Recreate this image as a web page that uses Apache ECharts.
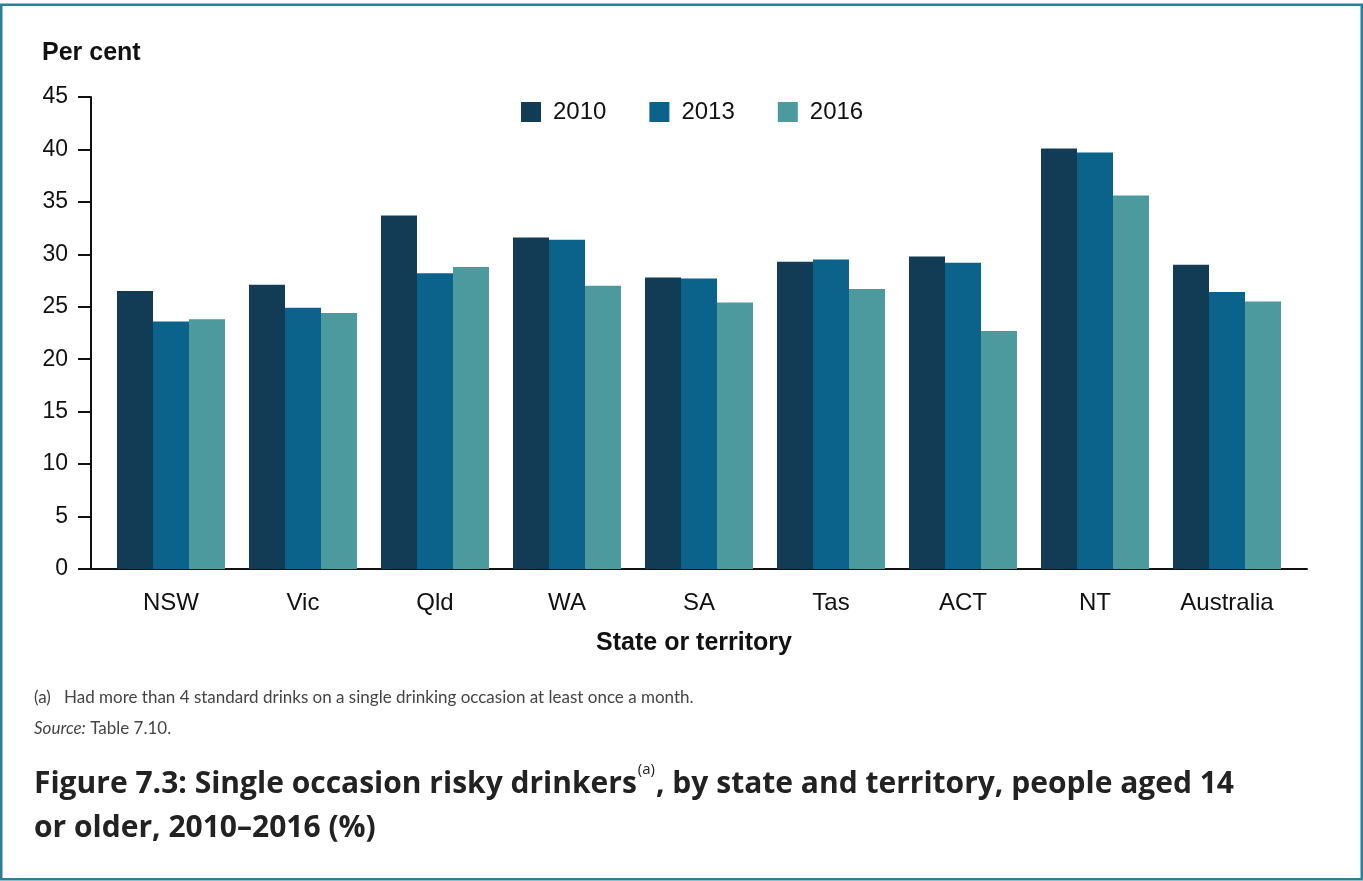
<!DOCTYPE html>
<html>
<head>
<meta charset="utf-8">
<script src="https://cdn.jsdelivr.net/npm/echarts@6/dist/echarts.min.js"></script>
<style>
  html, body { margin: 0; padding: 0; background: #fff; }
  #chart { width: 1363px; height: 881px; }
</style>
</head>
<body>
<div id="chart"></div>
<script>
const categories = ['NSW', 'Vic', 'Qld', 'WA', 'SA', 'Tas', 'ACT', 'NT', 'Australia'];
const seriesNames = ['2010', '2013', '2016'];
const values2010 = [26.5, 27.1, 33.7, 31.6, 27.8, 29.3, 29.8, 40.1, 29.0];
const values2013 = [23.6, 24.9, 28.2, 31.4, 27.7, 29.5, 29.2, 39.7, 26.4];
const values2016 = [23.8, 24.4, 28.8, 27.0, 25.4, 26.7, 22.7, 35.6, 25.5];
const colors = ['#123c56', '#0b628a', '#4c999e'];

const axisFont = 'Liberation Sans, Arial, sans-serif';
const titleFont = 'Open Sans, sans-serif';
const noteFont = 'Lato, Open Sans, sans-serif';

const chart = echarts.init(document.getElementById('chart'), null, { renderer: 'canvas' });

const mkSeries = (name, data, i) => ({
  name: name,
  type: 'bar',
  data: data,
  xAxisIndex: 0,
  yAxisIndex: 0,
  barGap: '0%',
  barCategoryGap: '18.18%',
  itemStyle: { color: colors[i] },
  emphasis: { disabled: true }
});

chart.setOption({
  animation: false,
  color: colors,
  grid: [
    { left: 105, right: 70, top: 97, bottom: 312 },
    { left: 91, right: 56, top: 97, bottom: 312 }
  ],
  legend: {
    data: seriesNames,
    left: 521,
    top: 100,
    padding: 0,
    icon: 'rect',
    itemWidth: 20,
    itemHeight: 20,
    itemGap: 43,
    selectedMode: false,
    textStyle: {
      fontFamily: axisFont,
      fontSize: 24,
      color: '#111',
      padding: [0, 0, 0, 7]
    }
  },
  title: [
    {
      left: 34,
      top: 762,
      padding: 0,
      text: '{b|Figure 7.3: Single occasion risky drinkers}{s|(a)}{b|, by state and territory, people aged 14}\n{b|or older, 2010–2016 (%)}',
      textStyle: {
        rich: {
          b: { fontFamily: titleFont, fontWeight: 'bold', fontSize: 30, color: '#222', lineHeight: 44 },
          s: { fontFamily: titleFont, fontWeight: 'normal', fontSize: 15, color: '#222', verticalAlign: 'top', lineHeight: 44, padding: [0, 1, 10, 1] }
        }
      }
    },
    {
      left: 34,
      top: 682,
      padding: 0,
      text: '{n|(a)   Had more than 4 standard drinks on a single drinking occasion at least once a month.}\n{i|Source:}{n| Table 7.10.}',
      textStyle: {
        fontWeight: 'normal',
        rich: {
          n: { fontFamily: noteFont, fontWeight: 'normal', fontSize: 17, color: '#444', lineHeight: 31 },
          i: { fontFamily: noteFont, fontWeight: 'normal', fontSize: 17, fontStyle: 'italic', color: '#444', lineHeight: 31 }
        }
      }
    }
  ],
  xAxis: [
    {
      type: 'category',
      gridIndex: 0,
      data: categories,
      axisLine: { show: false },
      axisTick: { show: false },
      axisLabel: { fontFamily: axisFont, fontSize: 24, color: '#111', margin: 22 },
      name: 'State or territory',
      nameLocation: 'middle',
      nameGap: 62,
      nameTextStyle: { fontFamily: axisFont, fontSize: 25, fontWeight: 'bold', color: '#111', verticalAlign: 'top', padding: [0, 10, 0, 0] }
    },
    {
      type: 'value',
      gridIndex: 1,
      axisLine: { show: true, lineStyle: { color: '#111', width: 2 } },
      axisTick: { show: false },
      axisLabel: { show: false },
      splitLine: { show: false }
    }
  ],
  yAxis: [
    {
      type: 'value',
      gridIndex: 0,
      min: 0,
      max: 45,
      interval: 5,
      offset: 14,
      axisLine: { show: true, lineStyle: { color: '#111', width: 2 } },
      axisTick: { show: true, length: 13, lineStyle: { color: '#111', width: 2 } },
      axisLabel: { fontFamily: axisFont, fontSize: 23, color: '#111', margin: 23 },
      splitLine: { show: false }
    },
    {
      type: 'value',
      gridIndex: 1,
      show: false
    }
  ],
  series: [
    mkSeries(seriesNames[0], values2010, 0),
    mkSeries(seriesNames[1], values2013, 1),
    mkSeries(seriesNames[2], values2016, 2)
  ],
  graphic: [
    {
      type: 'rect',
      shape: { x: 1.25, y: 4.75, width: 1360.5, height: 874.5 },
      style: { fill: 'none', stroke: '#2b7f98', lineWidth: 2.5 },
      silent: true
    },
    {
      type: 'text',
      left: 42,
      top: 41,
      style: { text: 'Per cent', fontFamily: axisFont, fontSize: 25, fontWeight: 'bold', fill: '#111' },
      silent: true
    }
  ]
});
</script>
</body>
</html>
